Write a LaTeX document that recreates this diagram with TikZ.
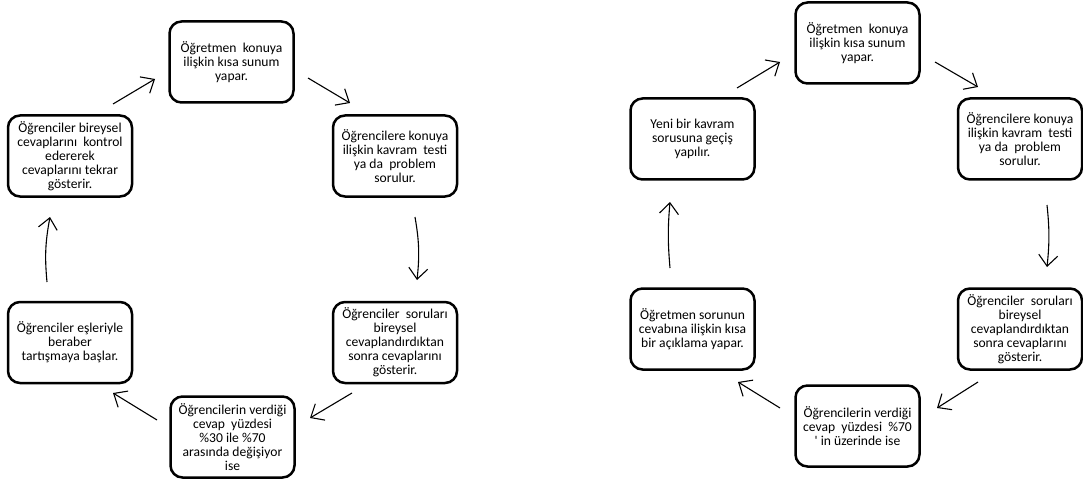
\documentclass[tikz,border=0pt]{standalone}
\usepackage{fontspec}
\setmainfont{Carlito}
\usetikzlibrary{positioning,arrows.meta}

\begin{document}
\begin{tikzpicture}
[x=1pt, y=-1pt,
stage/.style={draw, line width=2.5pt, rounded corners=12pt, minimum width=124pt, minimum height=81pt, outer sep=0pt, inner sep=1pt, align=center, font=\fontsize{13.6}{14}\selectfont},
flow/.style={line width=1.1pt, -{Straight Barb[length=11pt,width=19pt]}}]
\useasboundingbox (0,0) rectangle (1083,481);

% left cycle
\node (a1)[stage] at (231.5,62) {Öğretmen\ \ konuya\\ilişkin kısa sunum\\yapar.};
\node (a2)[stage, below right = 13pt and 39.5pt of a1] {Öğrencilere konuya\\ilişkin kavram\ \ testi\\ya da\ \ problem\\sorulur.};
\node (a3)[stage, below = 105.5pt of a2] {Öğrenciler\ \ soruları\\bireysel\\cevaplandırdıktan\\sonra cevaplarını\\gösterir.};
\node (a4)[stage, below left = 13.5pt and 38.5pt of a3] {Öğrencilerin verdiği\\cevap\ \ yüzdesi\\\%30 ile \%70\\arasında değişiyor\\ise};
\node (a5)[stage, above left = 13.5pt and 38.5pt of a4] {Öğrenciler eşleriyle\\beraber\\tartışmaya başlar.};
\node (a6)[stage, above = 105.5pt of a5] {Öğrenciler bireysel\\cevaplarını\ \ kontrol\\edererek\\cevaplarını tekrar\\gösterir.};

\draw[flow] ([shift={(-19,-11.5)}]a6.north east) -- ([shift={(-14.5,17)}]a1.west);
\draw[flow] ([shift={(14.5,16)}]a1.east) -- ([shift={(17,-12.5)}]a2.north west);
\draw[flow] ([shift={(20,20.5)}]a2.south) to[bend left=8] ([shift={(22,-22)}]a3.north);
\draw[flow] ([shift={(19,10)}]a3.south west) -- ([shift={(15.5,-19)}]a4.east);
\draw[flow] ([shift={(-13.5,-17)}]a4.west) -- ([shift={(-19,10)}]a5.south east);
\draw[flow] ([shift={(-23,-20)}]a5.north) to[bend left=8] ([shift={(-20,20.5)}]a6.south);

% right cycle
\node (b1)[stage] at (857.5,43) {Öğretmen\ \ konuya\\ilişkin kısa sunum\\yapar.};
\node (b2)[stage, below right = 15pt and 38.5pt of b1] {Öğrencilere konuya\\ilişkin kavram\ \ testi\\ya da\ \ problem\\sorulur.};
\node (b3)[stage, below = 109pt of b2] {Öğrenciler\ \ soruları\\bireysel\\cevaplandırdıktan\\sonra cevaplarını\\gösterir.};
\node (b4)[stage, below left = 16pt and 38.5pt of b3] {Öğrencilerin verdiği\\cevap\ \ yüzdesi\ \ \%70\\\textquotesingle\ in üzerinde ise};
\node (b5)[stage, above left = 16pt and 41pt of b4] {Öğretmen sorunun\\cevabına ilişkin kısa\\bir açıklama yapar.};
\node (b6)[stage, above = 109pt of b5] {Yeni bir kavram\\sorusuna geçiş\\yapılır.};

\draw[flow] ([shift={(-17.5,-10.5)}]b6.north east) -- ([shift={(-15.5,19)}]b1.west);
\draw[flow] ([shift={(15.5,19)}]b1.east) -- ([shift={(20,-11.5)}]b2.north west);
\draw[flow] ([shift={(27,25.5)}]b2.south) to[bend left=6] ([shift={(27,-21.5)}]b3.north);
\draw[flow] ([shift={(20,12.5)}]b3.south west) -- ([shift={(17.5,-18)}]b4.east);
\draw[flow] ([shift={(-15.5,-18)}]b4.west) -- ([shift={(-16.5,12.5)}]b5.south east);
\draw[flow] ([shift={(-22.5,-20.5)}]b5.north) to[bend left=5] ([shift={(-22.5,22.5)}]b6.south);

\end{tikzpicture}
\end{document}
